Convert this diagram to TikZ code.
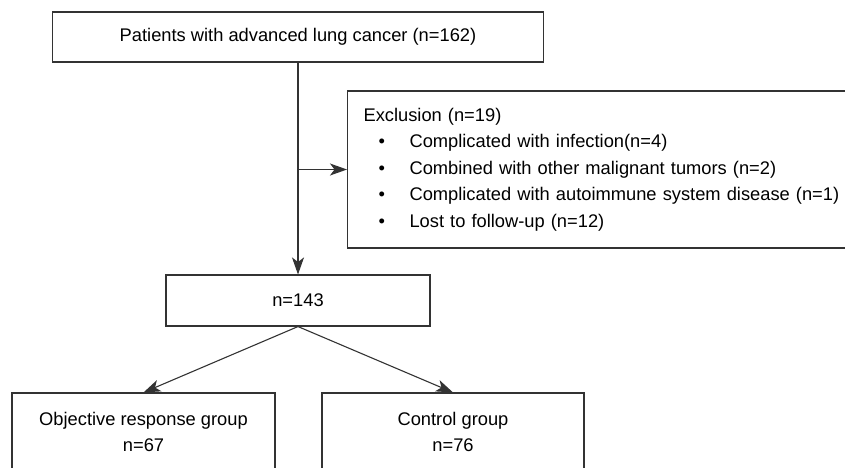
\documentclass[tikz,border=0pt]{standalone}
\usepackage{fontspec}
\setmainfont{Liberation Sans}
\usetikzlibrary{arrows.meta}
\tikzset{
	flowbox/.style={draw=black!80, line width=1.1pt, fill=white, inner sep=0pt, align=center},
	flowarrow/.style={draw=black!80, line width=1.1pt, -{Stealth[length=17pt,width=12pt,inset=4.5pt]}}
}
\begin{document}
\begin{tikzpicture}[x=1pt,y=-1pt,font=\fontsize{18.3}{26.5}\selectfont]
		\useasboundingbox (0,0) rectangle (845,467);
		
		\node [flowbox, minimum width=491pt, minimum height=50pt] (patients) at (298,37) {Patients with advanced lung cancer (n=162)};
		\node [flowbox, anchor=west, minimum height=157pt, text width=484pt, inner xsep=16pt, align=left] (excl) at (347,169.5) {Exclusion (n=19)\\
			\hspace*{15pt}\makebox[31pt][l]{•}Complicated with infection(n=4)\\
			\hspace*{15pt}\makebox[31pt][l]{•}Combined with other malignant tumors (n=2)\\
			\hspace*{15pt}\makebox[31pt][l]{•}Complicated with autoimmune system disease (n=1)\\
			\hspace*{15pt}\makebox[31pt][l]{•}Lost to follow-up (n=12)};
		\node [flowbox, minimum width=264pt, minimum height=51pt] (total) at (298,300.5) {n=143};
		
		% groups, cut by the lower edge
		\node [flowbox, minimum width=263pt, minimum height=78pt] (orr) at (143.5,432) {Objective response group\\n=67};
		\node [flowbox, minimum width=262pt, minimum height=78pt] (ctrl) at (453,432) {Control group\\n=76};
		
		\draw [flowarrow] (patients) -- (total);
		\draw [flowarrow] (patients.south |- excl.west) -- (excl.west);
		\draw [flowarrow] (total.south) -- (orr.north);
		\draw [flowarrow] (total.south) -- (ctrl.north);
	\end{tikzpicture}
\end{document}
